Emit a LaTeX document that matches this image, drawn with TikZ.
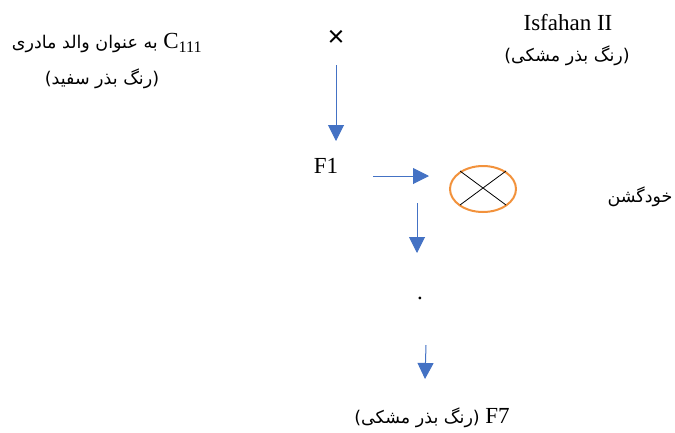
\documentclass[tikz,border=0pt]{standalone}
\usepackage{fontspec}
\setmainfont{Liberation Serif}
\newfontfamily\arabicfont[Script=Arabic]{DejaVu Sans}
\newfontfamily\crossfont{Liberation Sans}
\TeXXeTstate=1
\usetikzlibrary{arrows.meta,shapes.geometric}
\definecolor{arrowblue}{RGB}{68,114,196}
\definecolor{ringorange}{RGB}{242,146,60}
\newcommand{\latinbig}{\rmfamily\fontsize{23}{27}\selectfont}
\tikzset{
  lbl/.style={inner sep=0pt, font=\latinbig},
  fa/.style={inner sep=0pt, font=\arabicfont\fontsize{17.5}{22}\selectfont},
  flow/.style={draw=arrowblue, line width=1pt, -{Triangle[length=16pt,width=16pt]}},
}
\begin{document}
\begin{tikzpicture}[x=1pt,y=-1pt]
\useasboundingbox (0,0) rectangle (675,432);
\node[fa] (mother) at (107,43) {\beginR\beginL{\latinbig C\textsubscript{111}}\endL{} به عنوان والد مادری\endR};
\node[fa] (mothercol) at (102,79) {\beginR(رنگ بذر سفید)\endR};
\node[lbl] (father) at (568,23) {Isfahan II};
\node[fa] (fathercol) at (567,56) {\beginR(رنگ بذر مشکی)\endR};
\node[inner sep=0pt, font=\crossfont\fontsize{29}{29}\selectfont] (cross) at (336,38) {×};
\coordinate (a1s) at (336,65);
\coordinate (a1e) at (336,141);
\draw[flow] (a1s) -- (a1e);
\node[lbl] (f1) at (326,166) {F1};
\coordinate (a2s) at (373,176);
\coordinate (a2e) at (429,176);
\draw[flow] (a2s) -- (a2e);
\node[draw=ringorange, line width=2pt, ellipse, minimum width=66pt, minimum height=46pt, inner sep=0pt] (self) at (483,189) {};
\draw[line width=0.8pt] (460,171) -- (506,205) (506,171) -- (460,205);
\node[fa] (selfing) at (640,197) {\beginR خودگشن\endR};
\coordinate (a3s) at (417,203);
\coordinate (a3e) at (417,253);
\draw[flow] (a3s) -- (a3e);
\node[lbl] (dot) at (420,298) {.};
\coordinate (a4s) at (426,345);
\coordinate (a4e) at (425,379);
\draw[flow] (a4s) -- (a4e);
\node[fa] (f7) at (432,418) {\beginR\beginL{\latinbig F7}\endL{} (رنگ بذر مشکی)\endR};
\end{tikzpicture}
\end{document}
